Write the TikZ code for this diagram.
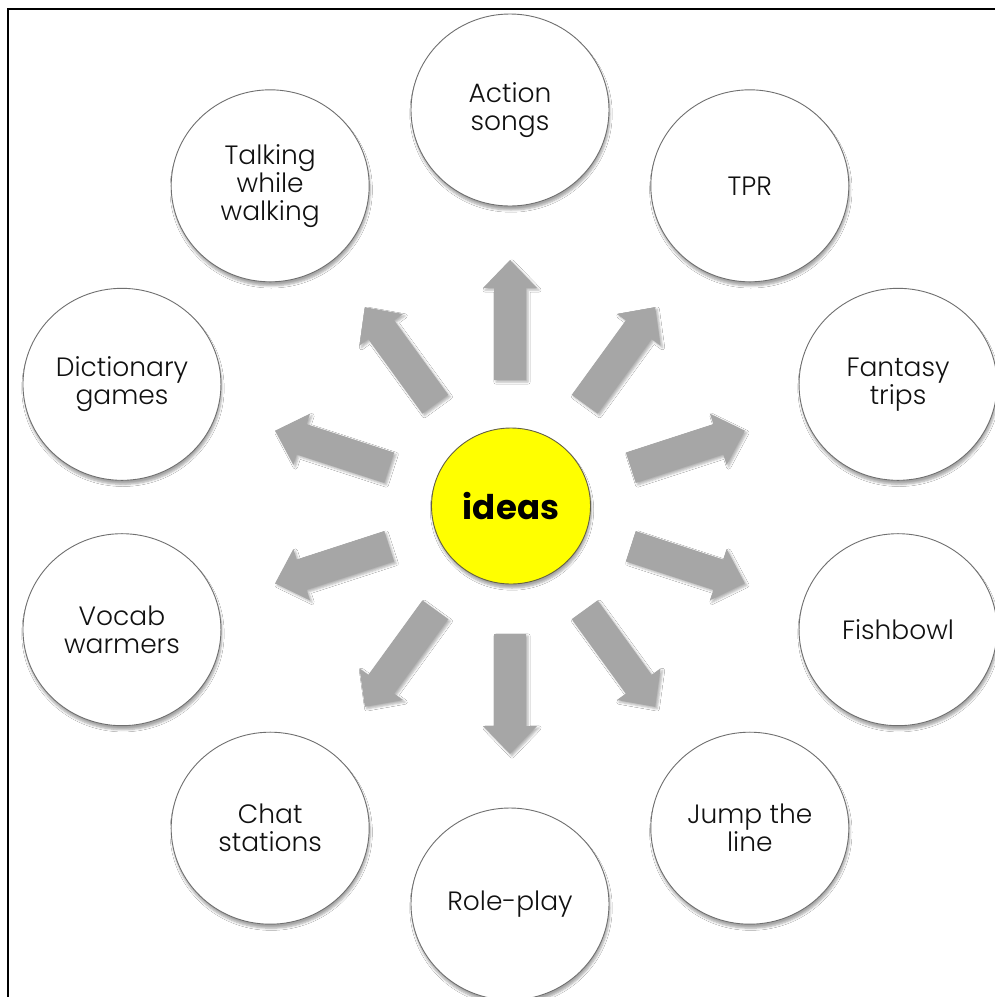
\documentclass[tikz,border=0pt]{standalone}
\usepackage{fontspec}
\setmainfont{Poppins}[UprightFont=* Light, BoldFont=* Bold]
\usetikzlibrary{shapes.geometric,shadows.blur}
\definecolor{arrowgray}{HTML}{A6A6A6}
\definecolor{ringgray}{HTML}{6F6F6F}
\definecolor{ideayellow}{HTML}{FFFF00}
\definecolor{txt}{HTML}{111111}
\begin{document}
\begin{tikzpicture}[x=1pt,y=-1pt,
  ideabox/.style={ellipse, draw=ringgray, line width=0.9pt, fill=white,
    minimum width=198pt, minimum height=192pt, inner sep=0pt, align=center,
    text=txt, font=\fontsize{26.5}{28}\selectfont,
    blur shadow={shadow xshift=1pt, shadow yshift=-4pt, shadow blur steps=6, shadow opacity=35}},
  hub/.style={ellipse, draw=black!70!yellow, line width=0.9pt, fill=ideayellow,
    minimum width=159pt, minimum height=156pt, inner sep=0pt,
    font=\bfseries\fontsize{34}{38}\selectfont,
    blur shadow={shadow xshift=1pt, shadow yshift=-4pt, shadow blur steps=6, shadow opacity=35}},
  blockarrow/.style={fill=arrowgray,
    blur shadow={shadow xshift=2pt, shadow yshift=-2pt, shadow blur steps=4, shadow opacity=30}}
]
\useasboundingbox (0,0) rectangle (995,997);
\fill[white] (0,0) rectangle (995,997);
\draw[line width=2.4pt] (8,997) -- (8,9) -- (995,9);

% arrows
\foreach \a in {90,54,18,-18,-54,-90,-126,-162,162,126}{
  \begin{scope}[shift={(510,507)}, rotate=\a]
    \fill[blockarrow] (127,-16) -- (219,-16) -- (219,-27) -- (247,0) -- (219,27) -- (219,16) -- (127,16) -- cycle;
  \end{scope}
}

\node[hub] (ideas) at (511,506) {ideas};

\foreach \a/\n/\t in {90/action/{Action\\songs}, 54/tpr/{TPR}, 18/fantasy/{Fantasy\\trips},
  -18/fishbowl/{Fishbowl}, -54/jump/{Jump the\\line}, -90/role/{Role-play},
  -126/chat/{Chat\\stations}, -162/vocab/{Vocab\\warmers}, 162/dict/{Dictionary\\games},
  126/talk/{Talking\\while\\walking}}{
  \node[ideabox] (\n) at ({510+408*cos(\a)}, {507-397*sin(\a)}) {\t};
}
\end{tikzpicture}
\end{document}
